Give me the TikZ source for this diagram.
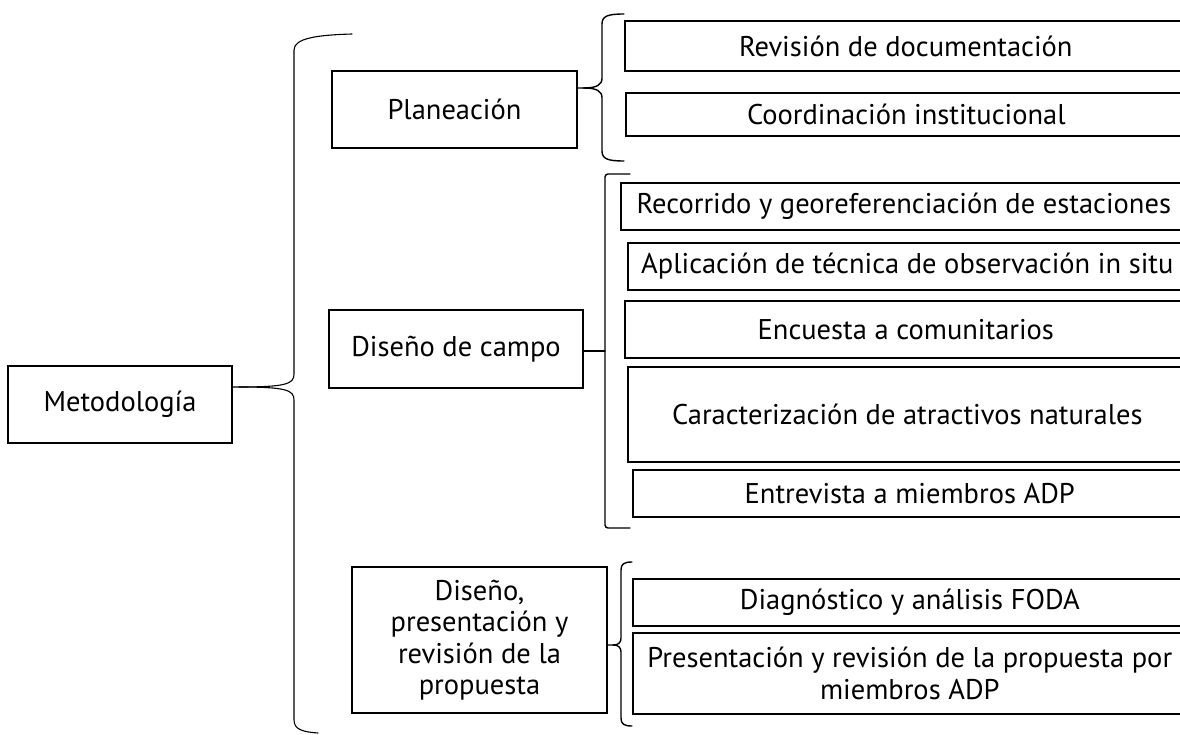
\documentclass[tikz,border=0pt]{standalone}
\usepackage{fontspec}
\setmainfont{PT Sans}
\usetikzlibrary{calc}

\begin{document}
\begin{tikzpicture}[x=1pt,y=-1pt,line cap=round,
    every node/.style={font=\fontsize{28.5}{31.5}\selectfont},
    box/.style={draw,line width=1.6pt,inner sep=0pt,align=center},
    brace/.style={line width=1.4pt}]
        \useasboundingbox (0,0) rectangle (1180,735);
        % left part
        \node[box,minimum width=224,minimum height=77] (meto) at (120,404.5) {Metodología};
        \node[box,minimum width=245,minimum height=77] (plan) at (454.5,109.5) {Planeación};
        \node[box,minimum width=254,minimum height=78] (campo) at (456,349) {Diseño de campo};
        \node[box,minimum width=255,minimum height=146] (prop) at (479.5,640)
            {Diseño,\\presentación y\\revisión de la\\propuesta};
        % right boxes, cut by the page edge
        \foreach \name/\x/\y/\h/\txt in {
            rev/624/46/50/{Revisión de documentación},
            coord/625/114.5/43/{Coordinación institucional},
            reco/620/206.5/47/{Recorrido y georeferenciación de estaciones},
            apli/627/266.5/47/{Aplicación de técnica de observación in situ},
            encu/624/329.5/57/{Encuesta a comunitarios},
            cara/627/414.5/95/{Caracterización de atractivos naturales},
            entr/632/493.5/47/{Entrevista a miembros ADP},
            diag/632/602.5/47/{Diagnóstico y análisis FODA},
            pres/632/673.5/81/{Presentación y revisión de la propuesta por\\miembros ADP}}{
            \pgfmathsetmacro{\w}{1186-\x}
            \node[box,anchor=west,minimum width=\w,minimum height=\h] (\name) at (\x,\y) {\txt};
        }
        % main brace
        \coordinate (tipM) at (239,387);
        \draw[line width=1.1pt] (meto.east |- tipM) -- (tipM)
            .. controls (286,387) and (294,384) .. (294,374) -- (294,50)
            .. controls (294,38) and (318,35) .. (352,34);
        \draw[line width=1.1pt] (tipM)
            .. controls (286,387) and (294,390) .. (294,400) -- (294,720)
            .. controls (294,730) and (304,732) .. (318,733);
        % brace of planeacion
        \coordinate (tipP) at (583,88);
        \draw[brace] (plan.east |- tipP) -- (tipP)
            .. controls (597,88) and (602,85) .. (602,78) -- (602,24)
            .. controls (602,16) and (608,14) .. (624,14);
        \draw[brace] (tipP)
            .. controls (597,88) and (602,91) .. (602,98) -- (602,151)
            .. controls (602,159) and (608,161) .. (624,161);
        % bracket of campo
        \coordinate (tipC) at (605,351);
        \draw[brace] (campo.east |- tipC) -- (tipC);
        \draw[brace,rounded corners=3pt] (630,174) -- (605,174) -- (605,528) -- (630,528);
        % brace of propuesta
        \coordinate (tipR) at (613,645);
        \draw[brace] (prop.east |- tipR) -- (tipR)
            .. controls (618,645) and (621,643) .. (621,638) -- (621,570)
            .. controls (621,564) and (624,562) .. (632,562);
        \draw[brace] (tipR)
            .. controls (618,645) and (621,647) .. (621,652) -- (621,718)
            .. controls (621,724) and (624,726) .. (632,726);
\end{tikzpicture}
\end{document}
